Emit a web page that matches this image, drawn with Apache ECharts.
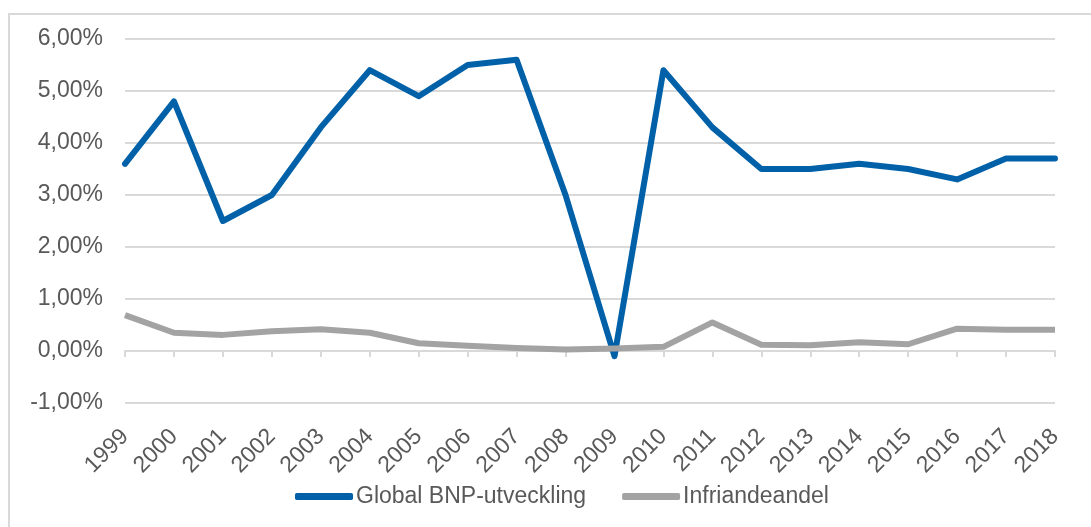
<!DOCTYPE html>
<html>
<head>
<meta charset="utf-8">
<script src="https://cdn.jsdelivr.net/npm/echarts@6/dist/echarts.min.js"></script>
<style>
  html, body { margin: 0; padding: 0; background: #fff; overflow: hidden; }
  #chart { width: 1091px; height: 527px; }
</style>
</head>
<body>
<div id="chart"></div>
<script>
  const years = ["1999", "2000", "2001", "2002", "2003", "2004", "2005", "2006", "2007", "2008",
    "2009", "2010", "2011", "2012", "2013", "2014", "2015", "2016", "2017", "2018"];
  // värden i procent
  const bnp = [3.6, 4.8, 2.5, 3.0, 4.3, 5.4, 4.9, 5.5, 5.6, 3.0,
    -0.1, 5.4, 4.3, 3.5, 3.5, 3.6, 3.5, 3.3, 3.7, 3.7];
  const infriande = [0.69, 0.35, 0.31, 0.38, 0.42, 0.35, 0.15, 0.10, 0.06, 0.03,
    0.05, 0.08, 0.55, 0.12, 0.11, 0.17, 0.13, 0.43, 0.41, 0.41];

  const chart = echarts.init(document.getElementById("chart"));
  const textColor = "#595959";
  const font = "'Liberation Sans', Arial, Helvetica, sans-serif";

  chart.setOption({
    animation: false,
    textStyle: { fontFamily: font },
    graphic: [{
      type: "rect",
      shape: { x: 9, y: 14, width: 1200, height: 600 },
      style: { fill: "none", stroke: "#d9d9d9", lineWidth: 2 },
      silent: true
    }],
    grid: { left: 125, right: 36, top: 39, bottom: 124, outerBoundsMode: "none", containLabel: false },
    legend: {
      left: 290,
      top: 480,
      icon: "roundRect",
      itemWidth: 58,
      itemHeight: 7,
      itemGap: 36,
      textStyle: { color: textColor, fontSize: 23, fontFamily: font, padding: [0, 0, 0, -2] },
      data: ["Global BNP-utveckling", "Infriandeandel"]
    },
    xAxis: {
      type: "category",
      data: years,
      boundaryGap: false,
      // linjen ligger på noll, etiketterna under -1 %
      axisLine: { onZero: true, lineStyle: { color: "#d9d9d9", width: 2 } },
      axisTick: { show: true, length: 6, interval: 0, lineStyle: { color: "#d9d9d9", width: 2 } },
      axisLabel: {
        rotate: 45,
        margin: 30,
        color: textColor,
        fontSize: 23,
        fontFamily: font,
        interval: 0
      }
    },
    yAxis: {
      type: "value",
      min: -1,
      max: 6,
      interval: 1,
      axisLine: { show: false },
      axisTick: { show: false },
      splitLine: { lineStyle: { color: "#d9d9d9", width: 2 } },
      axisLabel: {
        margin: 22,
        color: textColor,
        fontSize: 23,
        fontFamily: font,
        formatter: (v) => v.toFixed(2).replace(".", ",") + "%"
      }
    },
    series: [
      {
        name: "Global BNP-utveckling",
        type: "line",
        data: bnp,
        showSymbol: false,
        itemStyle: { color: "#0061a8" },
        lineStyle: { color: "#0061a8", width: 6, cap: "round", join: "round" }
      },
      {
        name: "Infriandeandel",
        type: "line",
        data: infriande,
        showSymbol: false,
        itemStyle: { color: "#a3a3a3" },
        lineStyle: { color: "#a3a3a3", width: 6, join: "round" }
      }
    ]
  });

  window.addEventListener("resize", () => chart.resize());
</script>
</body>
</html>
